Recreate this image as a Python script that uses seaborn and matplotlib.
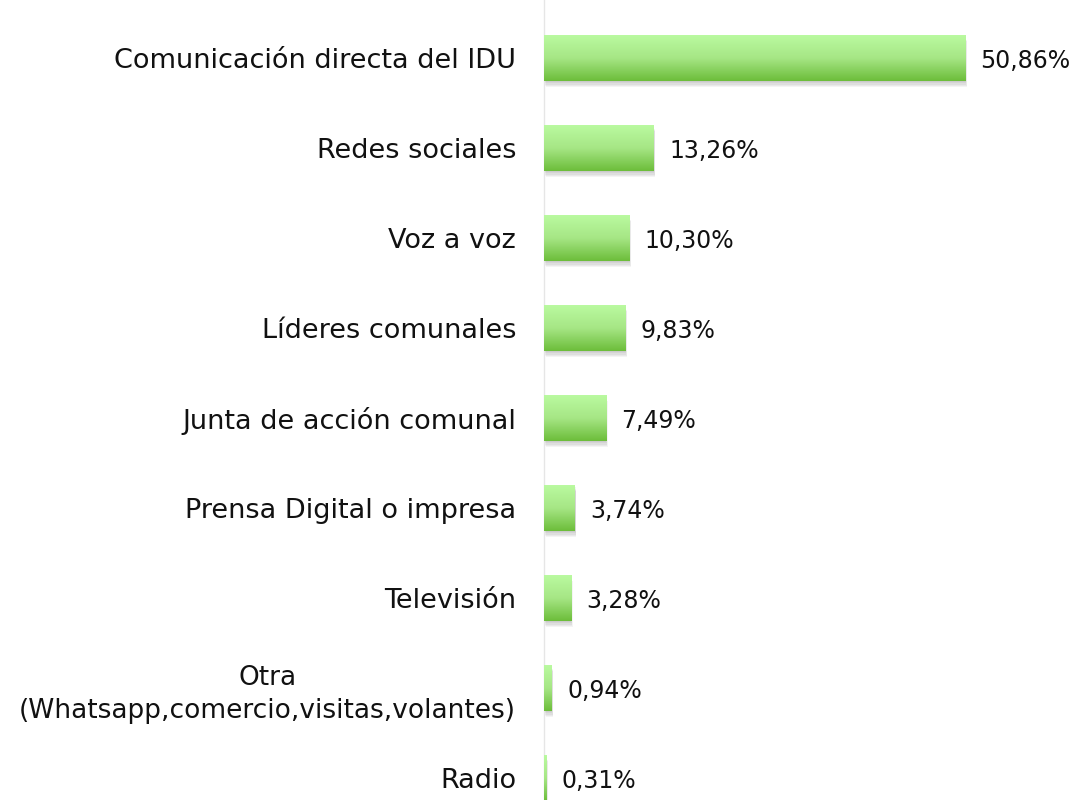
import matplotlib
matplotlib.use("Agg")
import matplotlib.pyplot as plt
import matplotlib.transforms as mtransforms
from matplotlib.patches import Rectangle
from matplotlib.colors import LinearSegmentedColormap
import numpy as np
import pandas as pd
import seaborn as sns

categories = [
    "Comunicación directa del IDU",
    "Redes sociales",
    "Voz a voz",
    "Líderes comunales",
    "Junta de acción comunal",
    "Prensa Digital o impresa",
    "Televisión",
    "Otra\n(Whatsapp,comercio,visitas,volantes)",
    "Radio",
]
values = [50.86, 13.26, 10.30, 9.83, 7.49, 3.74, 3.28, 0.94, 0.31]

df = pd.DataFrame({"medio": categories, "pct": values})

sns.set_style("white")
plt.rcParams["font.family"] = ["DejaVu Sans"]

fig = plt.figure(figsize=(10.75, 8), dpi=100)
ax = fig.add_axes([544 / 1075, 0, 531 / 1075, 1])

sns.barplot(data=df, x="pct", y="medio", orient="h", width=0.51,
            color="#8fd96a", ax=ax, zorder=3)

grad = LinearSegmentedColormap.from_list("g", ["#bafaa0", "#a6e685", "#6cbd3a"])
grad_img = np.linspace(0, 1, 256).reshape(-1, 1)

for p in ax.patches:
    x0, y0 = p.get_x(), p.get_y()
    w, h = p.get_width(), p.get_height()
    # soft shadow mostly below the bar
    for i in range(1, 6):
        off = mtransforms.ScaledTranslation(0.003 * i, -0.012 * i, fig.dpi_scale_trans)
        sh = Rectangle((x0, y0), w, h, transform=ax.transData + off,
                       facecolor="#000000", alpha=0.045, edgecolor="none", zorder=2)
        ax.add_patch(sh)
    im = ax.imshow(grad_img, cmap=grad, aspect="auto", origin="upper",
                   extent=(x0, x0 + w, y0 + h, y0), zorder=4, interpolation="bilinear")
    im.set_clip_path(p)
    p.set_facecolor("none")
    p.set_edgecolor("none")

for i, v in enumerate(values):
    ax.annotate(f"{v:.2f}".replace(".", ",") + "%", (v, i),
                xytext=(11, -2), textcoords="offset points",
                ha="left", va="center", fontsize=17, color="#111111")

ax.set_xlim(0, 64.1)
ax.set_ylim(8.244, -0.644)
ax.set_xlabel("")
ax.set_ylabel("")
ax.set_xticks([])
for s in ["top", "right", "bottom"]:
    ax.spines[s].set_visible(False)
ax.spines["left"].set_color("#e6e6e6")
ax.spines["left"].set_linewidth(1)
ax.tick_params(axis="y", length=0, pad=20, labelsize=19.5, labelcolor="#111111")
for lab in ax.get_yticklabels():
    lab.set_multialignment("center")
    lab.set_linespacing(1.2)
    if lab.get_text().startswith("Otra"):
        lab.set_fontsize(19)
        lab.set_linespacing(1.35)

fig.savefig("out.png", dpi=100)
